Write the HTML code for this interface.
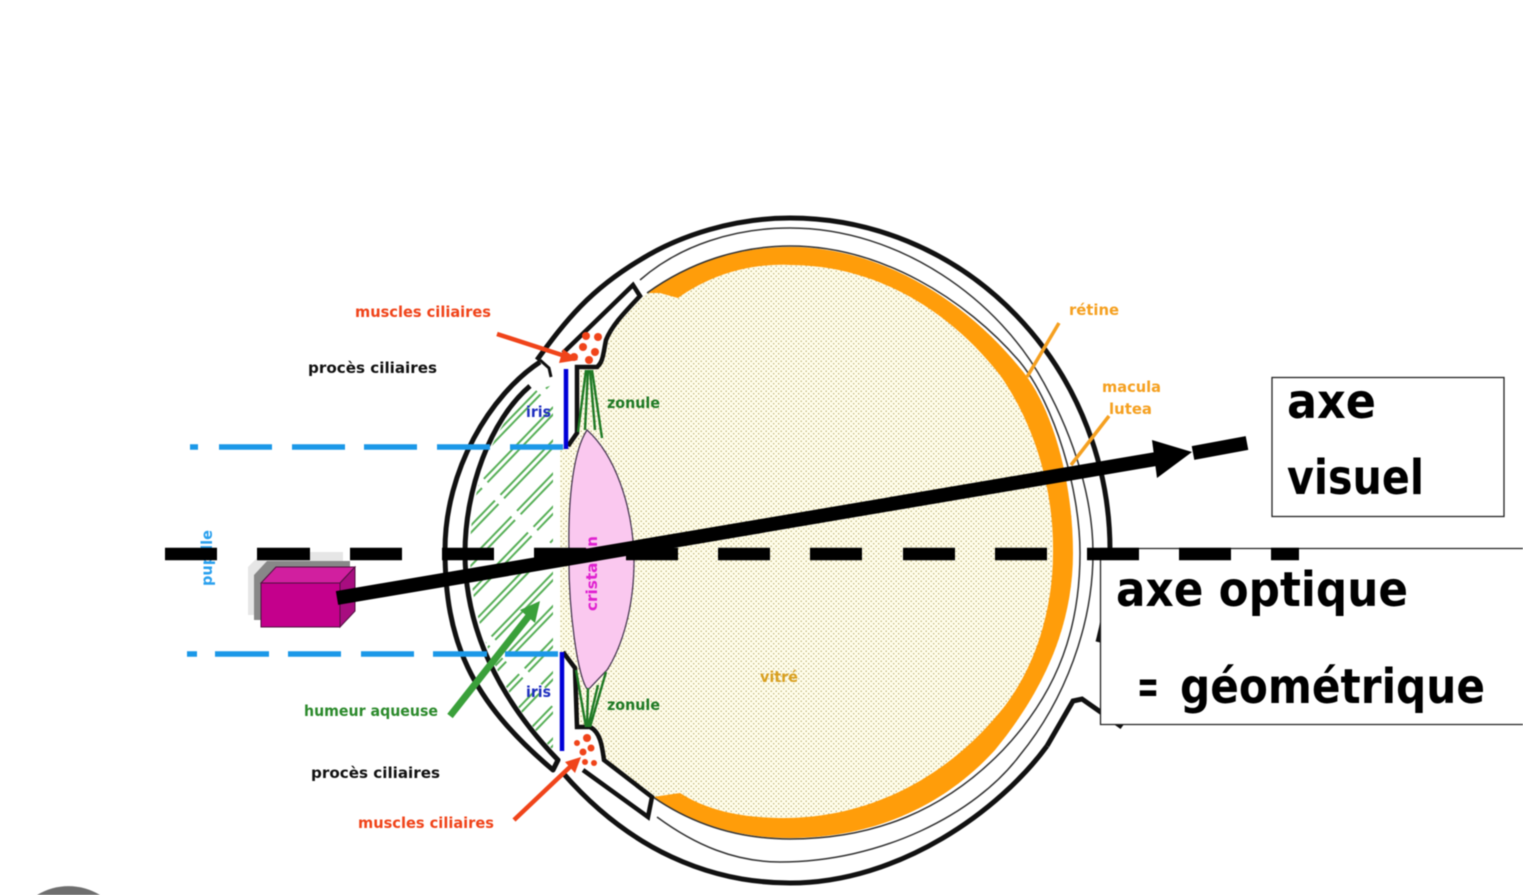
<!DOCTYPE html>
<html><head><meta charset="utf-8"><style>
html,body{margin:0;padding:0;background:#fff;width:1523px;height:895px;overflow:hidden}
svg{display:block;filter:blur(.6px)}
text{font-family:"DejaVu Sans","Liberation Sans",sans-serif;font-weight:bold}
.s{font-size:15px}
.b{font-size:48px;fill:#000}
</style></head><body>
<svg width="1523" height="895" viewBox="0 0 1523 895" xmlns="http://www.w3.org/2000/svg">
<defs>
<pattern id="dots" width="5" height="5" patternUnits="userSpaceOnUse">
<rect width="5" height="5" fill="#fffdea"/>
<circle cx="1.2" cy="1.2" r=".62" fill="#a89a55"/>
<circle cx="3.7" cy="3.7" r=".62" fill="#a89a55"/>
</pattern>
<pattern id="hatch" width="108" height="23" patternUnits="userSpaceOnUse" patternTransform="rotate(-46 500 550)">
<path d="M0 6H100M0 11H100" stroke="#58b058" stroke-width="2" fill="none"/>
</pattern>
<clipPath id="aq"><path d="M530 392C492 425 470 490 470 553C470 630 505 700 553 750L553 385Z"/></clipPath>
</defs>

<path d="M37 895A60 60 0 0 1 100 895Z" fill="#6e6e6e"/>

<!-- vitreous -->
<path d="M647 293C690 262 740 247 790 247C880 247 965 300 1020 368C1052 405 1073 480 1073 553C1073 630 1040 695 995 750C945 805 875 838 790 838C740 838 695 825 653 797L604 760L590 727L577 727L575 668L560 650L560 450L568 446L577 433L577 367L597 367L606 340L620 318Z" fill="url(#dots)"/>
<!-- retina -->
<path fill="#ff9d0a" d="M647 293C690 262 740 247 790 247C880 247 965 300 1020 368C1052 405 1073 480 1073 553C1073 630 1040 695 995 750C945 805 875 838 790 838C740 838 695 825 653 797L680 793C710 812 745 818 785 818C860 818 940 785 1000 712C1035 670 1053 610 1053 553C1054 490 1035 425 1000 375C945 305 870 265 790 265C750 263 710 275 678 298L660 293Z"/>

<!-- sclera thin lines -->
<path d="M647 293C690 262 740 246 790 246C880 246 965 298 1020 362C1055 405 1080 490 1080 553C1080 625 1060 690 1003 750C945 810 875 839 790 839C740 839 695 826 653 797" fill="none" stroke="#333" stroke-width="1.500"/>
<path d="M640 280C680 245 735 228 790 228C900 228 1000 300 1045 385C1075 440 1093 500 1093 553C1093 625 1065 700 1020 755C975 815 880 862 780 862C735 862 695 845 657 817" fill="none" stroke="#333" stroke-width="1.500"/>

<!-- hatch aqueous -->
<rect x="460" y="370" width="100" height="400" fill="url(#hatch)" clip-path="url(#aq)"/>

<!-- cornea / sclera thick -->
<path d="M537 360C566 320 590 290 640 260C680 235 735 218 790 218A320 332.500 0 0 1 1110 550C1110 585 1105 615 1098 642" fill="none" stroke="#111" stroke-width="5"/>
<path d="M1047 746C1000 810 900 883 790 883C710 883 630 850 563 773" fill="none" stroke="#111" stroke-width="5"/>
<path d="M1122 727L1082 699L1073 701L1047 746" fill="none" stroke="#111" stroke-width="5"/>
<path d="M540 362C490 395 445 470 445 550C445 640 470 700 553 770L558 760C500 700 465 630 465 553C465 490 490 420 530 386" fill="none" stroke="#111" stroke-width="5" stroke-linejoin="round"/>
<path d="M540 360L549 368L551 377" fill="none" stroke="#111" stroke-width="3"/>

<!-- ciliary -->
<path d="M563 353L633 285L640 296C625 312 612 325 606 340C603 355 603 362 597 367L577 367L577 433L568 443L565 365Z" fill="#fff"/>
<path d="M563 353L633 285L640 296C625 312 612 325 606 340C603 355 603 362 597 367L577 367L577 433L568 446" fill="none" stroke="#111" stroke-width="4.500"/>
<path d="M563 652L575 668L577 727L590 727C600 732 602 745 604 760L652 797L648 817L580 768L565 752Z" fill="#fff"/>
<path d="M563 652L575 668L577 727L590 727C600 732 602 745 604 760L652 797L648 817L583 770" fill="none" stroke="#111" stroke-width="4.500"/>

<!-- lens -->
<path d="M587 430C615 455 632 505 634 555C635 610 620 650 607 670L588 690C578 680 568 610 569 550C568 495 574 450 587 430Z" fill="#fac8ef" stroke="#4a3a55" stroke-width="1.300"/>

<!-- zonule -->
<path d="M586 370L578 432M588 370L585 430M590 370L595 430M592 370L602 438M586 727L576 670M587 727L588 688M588 727L598 685M590 727L606 672" stroke="#1f7a25" stroke-width="2.400" fill="none"/>

<!-- iris -->
<path d="M566 369V449M562 652V751" stroke="#0000d8" stroke-width="4.500" fill="none"/>

<!-- red dots -->
<g fill="#f0441a">
<circle cx="586" cy="336" r="4"/><circle cx="598" cy="337" r="4"/><circle cx="583" cy="347" r="4"/><circle cx="595" cy="352" r="4"/><circle cx="589" cy="360" r="4"/><circle cx="574" cy="357" r="4"/>
<circle cx="587" cy="738" r="4"/><circle cx="591" cy="748" r="3.500"/><circle cx="577" cy="743" r="3"/><circle cx="583" cy="752" r="3.500"/><circle cx="585" cy="762" r="3"/><circle cx="594" cy="763" r="3"/>
</g>

<!-- blue dashed -->
<path d="M190 447H198M219 447H272M292 447H345M364 447H417M437 447H490M510 447H563M187 654H197M215 654H269M288 654H341M361 654H414M433 654H487M505 654H558" stroke="#1b98e8" stroke-width="5.500" fill="none"/>

<!-- cube -->
<path d="M248 615V567L263 552H343V568L260 615Z" fill="#e6e6e6"/>
<path d="M254 620V575L267 561H350V575L262 620Z" fill="#888"/>
<path d="M261 583L276 567H355L340 583Z" fill="#d11f9f" stroke="#50103f"/>
<path d="M340 583L355 567V611L340 627Z" fill="#a80d80" stroke="#50103f"/>
<rect x="261" y="583" width="79" height="44" fill="#c4008c" stroke="#50103f"/>

<!-- arrows coloured -->
<path d="M450 716L532 612" stroke="#3aa03a" stroke-width="7" fill="none"/>
<path d="M540 601L535 623L520 610Z" fill="#3aa03a"/>
<path d="M497 334L565 356" stroke="#f0441a" stroke-width="4.500" fill="none"/>
<path d="M578 360L559 363L563 349Z" fill="#f0441a"/>
<path d="M514 820L572 765" stroke="#f0441a" stroke-width="4.500" fill="none"/>
<path d="M581 757L575 773L565 762Z" fill="#f0441a"/>
<path d="M1059 323L1027 377M1109 416L1071 465" stroke="#f5a020" stroke-width="3.500" fill="none"/>

<!-- labels -->
<g class="s">
<text x="355" y="317" fill="#f0441a" textLength="136" lengthAdjust="spacingAndGlyphs">muscles ciliaires</text>
<text x="358" y="828" fill="#f0441a" textLength="136" lengthAdjust="spacingAndGlyphs">muscles ciliaires</text>
<text x="308" y="373" fill="#111" textLength="129" lengthAdjust="spacingAndGlyphs">procès ciliaires</text>
<text x="311" y="778" fill="#111" textLength="129" lengthAdjust="spacingAndGlyphs">procès ciliaires</text>
<text x="304" y="716" fill="#2c8a2c" textLength="134" lengthAdjust="spacingAndGlyphs">humeur aqueuse</text>
<text x="526" y="417" fill="#2030c0" textLength="25" lengthAdjust="spacingAndGlyphs">iris</text>
<text x="526" y="697" fill="#2030c0" textLength="25" lengthAdjust="spacingAndGlyphs">iris</text>
<text x="607" y="408" fill="#1f7a25" textLength="53" lengthAdjust="spacingAndGlyphs">zonule</text>
<text x="607" y="710" fill="#1f7a25" textLength="53" lengthAdjust="spacingAndGlyphs">zonule</text>
<text x="760" y="682" fill="#d9a020" textLength="38" lengthAdjust="spacingAndGlyphs">vitré</text>
<text x="1069" y="315" fill="#f5a020" textLength="50" lengthAdjust="spacingAndGlyphs">rétine</text>
<text x="1102" y="392" fill="#f5a020" textLength="59" lengthAdjust="spacingAndGlyphs">macula</text>
<text x="1109" y="414" fill="#f5a020" textLength="43" lengthAdjust="spacingAndGlyphs">lutea</text>
<text transform="translate(212 586) rotate(-90)" fill="#2aa0ee" textLength="56" lengthAdjust="spacingAndGlyphs">pupille</text>
<text transform="translate(597 611) rotate(-90)" fill="#e020d0" textLength="75" lengthAdjust="spacingAndGlyphs">cristallin</text>
</g>

<!-- boxes -->
<rect x="1272" y="377.500" width="232" height="139" fill="#fff" stroke="#222" stroke-width="1.300"/>
<path d="M1523 548.500H1100.500V724.500H1523Z" fill="#fff"/>
<path d="M1523 548.500H1100.500V724.500H1523" fill="none" stroke="#222" stroke-width="1.300"/>
<text class="b" x="1287" y="418" textLength="89" lengthAdjust="spacingAndGlyphs">axe</text>
<text class="b" x="1287" y="494" textLength="137" lengthAdjust="spacingAndGlyphs">visuel</text>
<text class="b" x="1116" y="606" textLength="292" lengthAdjust="spacingAndGlyphs">axe optique</text>
<text class="b" x="1137" y="703" textLength="22" lengthAdjust="spacingAndGlyphs">=</text>
<text class="b" x="1180" y="703" textLength="305" lengthAdjust="spacingAndGlyphs">géométrique</text>

<!-- black dashes -->
<path d="M165 554H217M257 554H310M350 554H402M442 554H494M534 554H586M626 554H678M718 554H770M810 554H862M903 554H955M995 554H1047M1087 554H1139M1179 554H1231M1271 554H1299" stroke="#000" stroke-width="12.500" fill="none"/>

<!-- visual axis -->
<path d="M337 598L1156 459" stroke="#000" stroke-width="14" fill="none"/>
<path d="M1192 452L1157 478L1152 440Z" fill="#000"/>
<path d="M1193 453L1247 443" stroke="#000" stroke-width="14" fill="none"/>
</svg>
</body></html>
